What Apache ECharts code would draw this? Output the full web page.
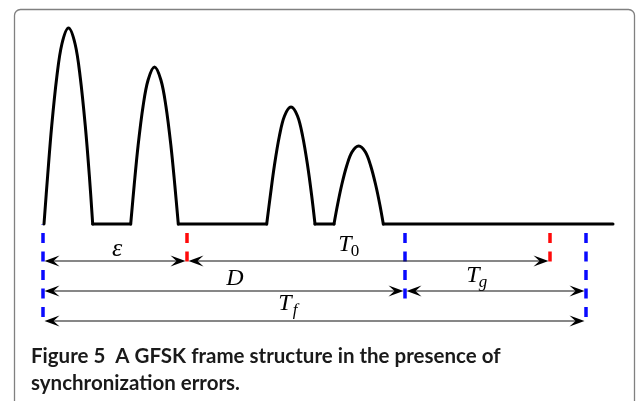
<!DOCTYPE html>
<html>
<head>
<meta charset="utf-8">
<title>GFSK frame structure</title>
<script src="https://cdn.jsdelivr.net/npm/echarts@6/dist/echarts.min.js"></script>
<style>
  html, body { margin: 0; padding: 0; background: #fff; }
  #frame { width: 639px; height: 401px; }
</style>
</head>
<body>
<div id="frame"></div>
<script>
// time: 0 = start of the frame, amplitude: 0 = idle level
var pulse1 = [[1, 0], [4.7, 49], [8.7, 98], [13.8, 147], [18.9, 180], [25.5, 196], [32.1, 180], [37.2, 147], [42.3, 98], [46.3, 49], [49.7, 0]];
var pulse2 = [[87.7, 0], [91.2, 39], [95.1, 78.5], [100.1, 118], [105.1, 144], [111.5, 157], [117.9, 144], [122.9, 118], [127.9, 78.5], [131.8, 39], [135.3, 0]];
var pulse3 = [[223.7, 0], [227.4, 29], [231.4, 58.5], [236.4, 88], [241.5, 108], [248, 117], [254.5, 108], [259.6, 88], [264.6, 58.5], [268.6, 29], [272, 0]];
var pulse4 = [[291, 0], [294.6, 19.5], [298.7, 39], [303.8, 58.5], [309, 72], [315.7, 78], [322.4, 72], [327.6, 58.5], [332.7, 39], [336.8, 19.5], [340.3, 0]];
var idleSegments = [[49.7, 87.7], [135.3, 223.7], [272, 291], [340.3, 570]];

// timing marks: frame boundaries (sync) and the offset/estimate marks
var markTime = [0, 144, 362, 507, 543];
var markDepth = [-98, -39, -77, -39, -98];
var markKind = ['sync', 'offset', 'sync', 'offset', 'sync'];

// interval arrows
var arrowFrom = [0, 144, 0, 362, 0];
var arrowTo = [144, 507, 362, 543, 543];
var arrowLevel = [-37, -37, -67, -67, -97];
var arrowName = ['\u03b5', 'T', 'D', 'T', 'T'];
var arrowSub = ['', '0', '', 'g', 'f'];
var nameTime = [74, 302, 192, 430, 242];
var nameLevel = [-25, -21, -55, -52, -80];

var captionLines = ['Figure 5  A GFSK frame structure in the presence of', 'synchronization errors.'];

var chart = echarts.init(document.getElementById('frame'), null, { renderer: 'canvas' });

var series = [];
[pulse1, pulse2, pulse3, pulse4].forEach(function (p) {
  series.push({
    type: 'line', data: p, smooth: 0.35, showSymbol: false, clip: false,
    lineStyle: { color: '#000', width: 3, cap: 'round', join: 'round' }, z: 3
  });
});
idleSegments.forEach(function (s) {
  series.push({
    type: 'line', data: [[s[0], 0], [s[1], 0]], showSymbol: false, clip: false,
    lineStyle: { color: '#000', width: 3, cap: 'round' }, z: 3
  });
});

series.push({
  type: 'custom',
  data: markTime.map(function (t, i) { return [t, markDepth[i]]; }),
  z: 2,
  renderItem: function (params, api) {
    var a = api.coord([api.value(0), 0]);
    var b = api.coord([api.value(0), api.value(1)]);
    var col = markKind[params.dataIndex] === 'sync' ? '#0a0aff' : '#ff0a0a';
    return {
      type: 'line',
      shape: { x1: a[0], y1: a[1], x2: b[0], y2: b[1] },
      style: { stroke: col, lineWidth: 3.5, lineDash: [10, 8.5], lineDashOffset: 9.5 }
    };
  }
});

function head(x, y, dir) {
  var L = 15, W = 5.5;
  return {
    type: 'polygon',
    shape: { points: [[x, y], [x + dir * L, y - W], [x + dir * L * 0.6, y], [x + dir * L, y + W]] },
    style: { fill: '#000' }
  };
}

series.push({
  type: 'custom',
  data: arrowFrom.map(function (f, i) { return [f, arrowTo[i], arrowLevel[i], nameTime[i], nameLevel[i]]; }),
  z: 4,
  renderItem: function (params, api) {
    var i = params.dataIndex;
    var p0 = api.coord([api.value(0), api.value(2)]);
    var p1 = api.coord([api.value(1), api.value(2)]);
    var x0 = p0[0] + 1.5, x1 = p1[0] - 1.5, y = p0[1];
    var n = api.coord([api.value(3), api.value(4)]);
    var big = arrowName[i] === '\u03b5' ? 26 : 24;
    var kids = [
      { type: 'line', shape: { x1: x0 + 4, y1: y, x2: x1 - 4, y2: y }, style: { stroke: '#111', lineWidth: 1.2 } },
      head(x0, y, 1),
      head(x1, y, -1),
      { type: 'text', x: n[0], y: n[1], style: { text: arrowName[i], font: 'italic ' + big + 'px "Liberation Serif"', fill: '#000', align: 'center', verticalAlign: 'middle' } }
    ];
    if (arrowSub[i]) {
      kids.push({
        type: 'text', x: n[0] + 10, y: n[1] + 7,
        style: { text: arrowSub[i], font: (arrowSub[i] === '0' ? '' : 'italic ') + '17px "Liberation Serif"', fill: '#000', align: 'center', verticalAlign: 'middle' }
      });
    }
    return { type: 'group', children: kids };
  }
});

chart.setOption({
  animation: false,
  backgroundColor: '#fff',
  grid: { left: 43, right: 26, top: 24, bottom: 1 },
  xAxis: { type: 'value', min: 0, max: 570, show: false },
  yAxis: { type: 'value', min: -176, max: 200, show: false },
  graphic: [
    { type: 'rect', silent: true, z: -10, shape: { x: 14.5, y: 9.5, width: 620, height: 430, r: 6 }, style: { fill: 'none', stroke: '#808080', lineWidth: 1.3 } },
    { type: 'text', x: 31, y: 356, style: { text: captionLines[0], font: 'bold 20.5px Lato', fill: '#1a1a1a', verticalAlign: 'middle' } },
    { type: 'text', x: 31, y: 383, style: { text: captionLines[1], font: 'bold 20.5px Lato', fill: '#1a1a1a', verticalAlign: 'middle' } }
  ],
  series: series
});
</script>
</body>
</html>
